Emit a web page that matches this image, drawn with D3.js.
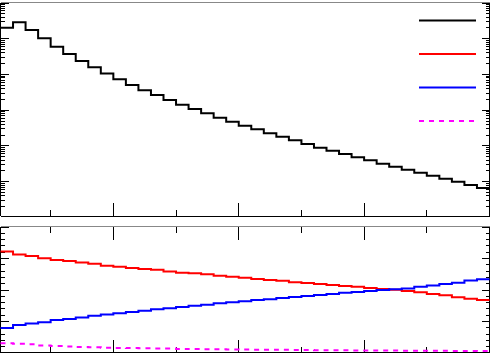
<!DOCTYPE html>
<html><head><meta charset="utf-8">
<script src="https://cdn.jsdelivr.net/npm/d3@7"></script>
<style>html,body{margin:0;padding:0;background:#fff;overflow:hidden}</style>
</head><body><svg id="c" width="491" height="353"></svg>
<script>
// ---------- data ----------
const binLow = [10,20,30,40,50,60,70,80,90,100,110,120,130,140,150,160,170,180,190,200,
                210,220,230,240,250,260,270,280,290,300,310,320,330,340,350,360,370,380,390];
const xMax = 400;
const total = [20370,28840,17580,10300,6000,3745,2388,1589,1067,734,508,364,267,194,143,108,82,62,47.9,37,
               29.3,22.6,18.2,14.4,11.4,8.96,7.39,5.97,4.83,3.98,3.20,2.64,2.17,1.79,1.48,1.22,1.00,0.81,0.67];
const fracRed = [0.622,0.613,0.608,0.601,0.595,0.592,0.587,0.583,0.577,0.574,0.570,0.567,0.564,0.559,0.555,0.553,0.550,0.545,0.542,0.539,
                 0.535,0.532,0.529,0.525,0.522,0.519,0.516,0.513,0.510,0.506,0.503,0.501,0.497,0.493,0.487,0.483,0.477,0.472,0.468];
const fracBlue = [0.379,0.389,0.394,0.398,0.405,0.408,0.413,0.418,0.422,0.426,0.430,0.434,0.439,0.442,0.446,0.450,0.453,0.458,0.461,0.464,
                  0.468,0.471,0.475,0.478,0.481,0.484,0.487,0.491,0.494,0.497,0.500,0.502,0.505,0.510,0.514,0.519,0.523,0.530,0.534];
const fracMagenta = [0.331,0.329,0.328,0.324,0.322,0.321,0.319,0.318,0.317,0.316,0.3155,0.315,0.3145,0.314,0.313,0.3125,0.312,0.3117,0.3113,0.311,
                     0.3107,0.3104,0.310,0.3097,0.3094,0.3091,0.3088,0.3085,0.3082,0.308,0.3078,0.3076,0.3074,0.3072,0.307,0.3068,0.3066,0.3064,0.3062];
const xMajorTicks = [100,200,300];
const xMinorTicks = [50,150,250,350];
const logMajorTicks = [1,10,100,1000,10000,100000];
const ratioMajorTicks = [0.3,0.4,0.5,0.6,0.7];
const legendItems = [
  {color:"#000000", dash:null},
  {color:"#ff0000", dash:null},
  {color:"#0000ff", dash:null},
  {color:"#ff00ff", dash:"5,5"}
];

// ---------- layout ----------
const svg = d3.select("#c");
const L = 0.5, R = 489.5;
const top1 = 2.5, bot1 = 216;
const top2 = 226.5, bot2 = 352.5;

const x = d3.scaleLinear().domain([binLow[0], xMax]).range([L, R]);
const y1 = d3.scaleLog().domain([0.11, 1e5]).range([bot1, 3]);
const y2 = d3.scaleLinear().domain([0.3, 0.7]).range([353, 227]);

const crisp = v => Math.round(v - 0.5) + 0.5;

function stepPoints(vals){
  const pts = binLow.map((b,i)=>[b, vals[i]]);
  pts.push([xMax, vals[vals.length-1]]);
  return pts;
}

// ---------- top panel ----------
const g1 = svg.append("g");
// frame
g1.append("line").attr("x1",L).attr("x2",R).attr("y1",top1).attr("y2",top1).attr("stroke","#888").attr("shape-rendering","crispEdges");
g1.append("line").attr("x1",L).attr("x2",R).attr("y1",crisp(bot1)).attr("y2",crisp(bot1)).attr("stroke","#000").attr("shape-rendering","crispEdges");
g1.append("line").attr("x1",L).attr("x2",L).attr("y1",top1).attr("y2",bot1).attr("stroke","#000").attr("shape-rendering","crispEdges");
g1.append("line").attr("x1",R).attr("x2",R).attr("y1",top1).attr("y2",bot1).attr("stroke","#000").attr("shape-rendering","crispEdges");

// log ticks
const [dmin, dmax] = y1.domain();
const logTicks = [];
logMajorTicks.concat([0.1]).forEach(m=>{
  if (m>=dmin && m<=dmax) logTicks.push({v:m, major:true});
  for (let k=2;k<=9;k++){ const v=m*k; if (v>=dmin && v<=dmax) logTicks.push({v, major:false}); }
});
logTicks.forEach(t=>{
  const yy = crisp(y1(t.v)); const len = t.major?8:4;
  g1.append("line").attr("x1",L).attr("x2",L+len).attr("y1",yy).attr("y2",yy).attr("stroke","#000").attr("shape-rendering","crispEdges");
  g1.append("line").attr("x1",R).attr("x2",R-len).attr("y1",yy).attr("y2",yy).attr("stroke","#000").attr("shape-rendering","crispEdges");
});
// x ticks (bottom of top panel)
xMajorTicks.forEach(v=>{ const xx=crisp(x(v));
  g1.append("line").attr("x1",xx).attr("x2",xx).attr("y1",bot1).attr("y2",bot1-13).attr("stroke","#000").attr("shape-rendering","crispEdges"); });
xMinorTicks.forEach(v=>{ const xx=crisp(x(v));
  g1.append("line").attr("x1",xx).attr("x2",xx).attr("y1",bot1).attr("y2",bot1-6).attr("stroke","#000").attr("shape-rendering","crispEdges"); });

// histogram
const line1 = d3.line().x(d=>x(d[0])).y(d=>y1(d[1])).curve(d3.curveStepAfter);
g1.append("path").attr("d", line1(stepPoints(total))).attr("fill","none").attr("stroke","#000").attr("stroke-width",2);

// legend (lines only)
const legY = [20.5, 54, 87.5, 121];
legendItems.forEach((it,i)=>{
  g1.append("line").attr("x1",419).attr("x2",476).attr("y1",legY[i]).attr("y2",legY[i])
    .attr("stroke",it.color).attr("stroke-width",2).attr("stroke-dasharray",it.dash);
});

// ---------- bottom panel ----------
const g2 = svg.append("g");
g2.append("line").attr("x1",L).attr("x2",R).attr("y1",top2).attr("y2",top2).attr("stroke","#888").attr("shape-rendering","crispEdges");
g2.append("line").attr("x1",L).attr("x2",R).attr("y1",bot2).attr("y2",bot2).attr("stroke","#000").attr("shape-rendering","crispEdges");
g2.append("line").attr("x1",L).attr("x2",L).attr("y1",top2).attr("y2",bot2).attr("stroke","#000").attr("shape-rendering","crispEdges");
g2.append("line").attr("x1",R).attr("x2",R).attr("y1",top2).attr("y2",bot2).attr("stroke","#000").attr("shape-rendering","crispEdges");

// y ticks
const rTicks = [];
ratioMajorTicks.forEach((m,i)=>{
  rTicks.push({v:m, major:true});
  if (i<ratioMajorTicks.length-1){
    const step = (ratioMajorTicks[i+1]-m)/5;
    for (let k=1;k<5;k++) rTicks.push({v:m+k*step, major:false});
  }
});
rTicks.forEach(t=>{
  const yy = crisp(y2(t.v)); const len = t.major?8:4;
  g2.append("line").attr("x1",L).attr("x2",L+len).attr("y1",yy).attr("y2",yy).attr("stroke","#000").attr("shape-rendering","crispEdges");
  g2.append("line").attr("x1",R).attr("x2",R-len).attr("y1",yy).attr("y2",yy).attr("stroke","#000").attr("shape-rendering","crispEdges");
});
// x ticks top & bottom
xMajorTicks.forEach(v=>{ const xx=crisp(x(v));
  g2.append("line").attr("x1",xx).attr("x2",xx).attr("y1",top2).attr("y2",top2+13).attr("stroke","#000").attr("shape-rendering","crispEdges");
  g2.append("line").attr("x1",xx).attr("x2",xx).attr("y1",bot2).attr("y2",bot2-13).attr("stroke","#000").attr("shape-rendering","crispEdges"); });
xMinorTicks.forEach(v=>{ const xx=crisp(x(v));
  g2.append("line").attr("x1",xx).attr("x2",xx).attr("y1",top2).attr("y2",top2+6).attr("stroke","#000").attr("shape-rendering","crispEdges");
  g2.append("line").attr("x1",xx).attr("x2",xx).attr("y1",bot2).attr("y2",bot2-6).attr("stroke","#000").attr("shape-rendering","crispEdges"); });

const line2 = d3.line().x(d=>x(d[0])).y(d=>y2(d[1])).curve(d3.curveStepAfter);
g2.append("path").attr("d", line2(stepPoints(fracRed))).attr("fill","none").attr("stroke","#ff0000").attr("stroke-width",2);
g2.append("path").attr("d", line2(stepPoints(fracBlue))).attr("fill","none").attr("stroke","#0000ff").attr("stroke-width",2);
g2.append("path").attr("d", line2(stepPoints(fracMagenta))).attr("fill","none").attr("stroke","#ff00ff").attr("stroke-width",2).attr("stroke-dasharray","5,5");
</script>
</body></html>
